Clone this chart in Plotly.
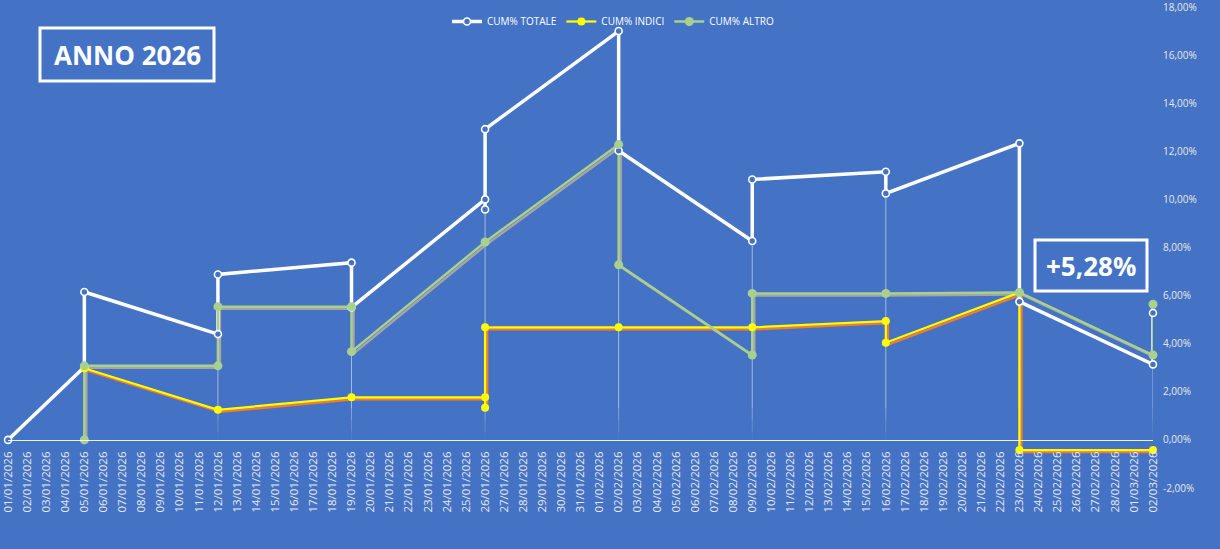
import plotly.graph_objects as go
import pandas as pd

# ---------------- data ----------------
axis_dates = pd.date_range("2026-01-01", "2026-03-02", freq="D")
tick_labels = [d.strftime("%d/%m/%Y") for d in axis_dates]

totale_dates = ["2026-01-01", "2026-01-05", "2026-01-05", "2026-01-12", "2026-01-12",
                "2026-01-19", "2026-01-19", "2026-01-26", "2026-01-26", "2026-01-26",
                "2026-02-02", "2026-02-02", "2026-02-09", "2026-02-09", "2026-02-16",
                "2026-02-16", "2026-02-23", "2026-02-23", "2026-03-02", "2026-03-02"]
totale_vals = [0.00, 3.03, 6.15, 4.40, 6.88, 7.37, 5.51, 10.00, 9.58, 12.92,
               17.00, 12.02, 8.27, 10.83, 11.15, 10.25, 12.33, 5.75, 3.14, 5.28]

indici_dates = ["2026-01-05", "2026-01-12", "2026-01-19", "2026-01-26", "2026-01-26",
                "2026-01-26", "2026-02-02", "2026-02-09", "2026-02-16", "2026-02-16",
                "2026-02-23", "2026-02-23", "2026-03-02"]
indici_vals = [2.98, 1.25, 1.77, 1.77, 1.34, 4.68, 4.68, 4.68, 4.94, 4.04, 6.13, -0.42, -0.42]

altro_dates = ["2026-01-05", "2026-01-05", "2026-01-12", "2026-01-12", "2026-01-19",
               "2026-01-19", "2026-01-26", "2026-02-02", "2026-02-02", "2026-02-09",
               "2026-02-09", "2026-02-16", "2026-02-23", "2026-03-02", "2026-03-02"]
altro_vals = [0.00, 3.08, 3.08, 5.54, 5.54, 3.67, 8.23, 12.28, 7.28, 3.53, 6.09, 6.09,
              6.13, 3.53, 5.64]

series_names = ["CUM% TOTALE", "CUM% INDICI", "CUM% ALTRO"]
title_text = "ANNO 2026"
final_text = "+5,28%"
y_min, y_max = -2, 18
y_ticks = list(range(y_min, y_max + 1, 2))
y_tick_labels = [f"{v:.2f}%".replace(".", ",") for v in y_ticks]

# ---------------- style ----------------
BG = "#4472C4"
WHITE = "#FFFFFF"
YELLOW = "#FFFF00"
ORANGE = "#ED7D31"
GREEN = "#A9D18E"
GRAY = "#A5A5A5"
TICK = "#E8E8E8"
FONT = "Open Sans"

W, H = 1220, 549
ML, MR, MT, MB = 8, 67, 7, 61
plot_w = W - ML - MR
plot_h = H - MT - MB

x0_date = axis_dates[0]


def to_day(ds):
    return [(pd.Timestamp(d) - x0_date).days for d in ds]


axis_days = to_day(axis_dates)
tot_x, ind_x, alt_x = to_day(totale_dates), to_day(indici_dates), to_day(altro_dates)
x_lo, x_hi = axis_days[0], axis_days[-1]
pad = 0.001
shift_px = 2.0
shift_x = shift_px * (x_hi - x_lo) / plot_w
shift_y = shift_px * (y_max - y_min) / plot_h

fig = go.Figure()

# drop lines (from highest point of each date down to the axis), fading near bottom
all_pts = {}
for xs_, vs in ((tot_x, totale_vals), (ind_x, indici_vals), (alt_x, altro_vals)):
    for d, v in zip(xs_, vs):
        all_pts[d] = max(all_pts.get(d, v), v)
fade_levels = [(None, 1.3, 0.5), (1.3, 0.8, 0.32), (0.8, 0.35, 0.18), (0.35, 0.0, 0.06)]
for top, bot, alpha in fade_levels:
    xs, ys = [], []
    for d, v in all_pts.items():
        if v <= 0:
            continue
        t = v if top is None else min(v, top)
        if t <= bot:
            continue
        xs += [d, d, None]
        ys += [t, bot, None]
    fig.add_trace(go.Scatter(x=xs, y=ys, mode="lines", showlegend=False, hoverinfo="skip",
                             line=dict(color=f"rgba(255,255,255,{alpha})", width=1),
                             xaxis="x", yaxis="y"))

# shadows (offset axes)
fig.add_trace(go.Scatter(x=alt_x, y=altro_vals, mode="lines", showlegend=False,
                         line=dict(color=GRAY, width=2.5), xaxis="x2", yaxis="y2",
                         cliponaxis=False))
fig.add_trace(go.Scatter(x=ind_x, y=indici_vals, mode="lines", showlegend=False,
                         line=dict(color=ORANGE, width=2.5), xaxis="x2", yaxis="y2",
                         cliponaxis=False))

# main lines
fig.add_trace(go.Scatter(x=tot_x, y=totale_vals, mode="lines", showlegend=False,
                         line=dict(color=WHITE, width=3.5), xaxis="x3", yaxis="y3",
                         cliponaxis=False))
fig.add_trace(go.Scatter(x=ind_x, y=indici_vals, mode="lines", showlegend=False,
                         line=dict(color=YELLOW, width=2.25), xaxis="x3", yaxis="y3",
                         cliponaxis=False))
fig.add_trace(go.Scatter(x=alt_x, y=altro_vals, mode="lines", showlegend=False,
                         line=dict(color=GREEN, width=2.5), xaxis="x3", yaxis="y3",
                         cliponaxis=False))

# markers
fig.add_trace(go.Scatter(x=tot_x, y=totale_vals, mode="markers", showlegend=False,
                         marker=dict(symbol="circle", size=7, color=BG,
                                     line=dict(color=WHITE, width=1.6)),
                         xaxis="x3", yaxis="y3", cliponaxis=False))
fig.add_trace(go.Scatter(x=ind_x, y=indici_vals, mode="markers", showlegend=False,
                         marker=dict(symbol="circle", size=8, color=YELLOW),
                         xaxis="x3", yaxis="y3", cliponaxis=False))
fig.add_trace(go.Scatter(x=alt_x, y=altro_vals, mode="markers", showlegend=False,
                         marker=dict(symbol="circle", size=9, color=GREEN),
                         xaxis="x3", yaxis="y3", cliponaxis=False))

# legend entries
legend_styles = [
    dict(line=dict(color=WHITE, width=3.5),
         marker=dict(symbol="circle", size=7, color=BG, line=dict(color=WHITE, width=1.6))),
    dict(line=dict(color=YELLOW, width=2.25), marker=dict(symbol="circle", size=8, color=YELLOW)),
    dict(line=dict(color=GREEN, width=2.5), marker=dict(symbol="circle", size=9, color=GREEN)),
]
for name, st in zip(series_names, legend_styles):
    fig.add_trace(go.Scatter(x=[None], y=[None], mode="lines+markers", name=name,
                             xaxis="x3", yaxis="y3", **st))


def px_to_paper_x(px):
    return (px - ML) / plot_w


def px_to_paper_y(py):
    return (H - MB - py) / plot_h


boxes = [
    (title_text, 40, 28, 214, 81),
    (final_text, 1035, 240, 1147, 291),
]
for text, bx0, by0, bx1, by1 in boxes:
    fig.add_shape(type="rect", xref="paper", yref="paper",
                  x0=px_to_paper_x(bx0), x1=px_to_paper_x(bx1),
                  y0=px_to_paper_y(by1), y1=px_to_paper_y(by0),
                  line=dict(color=WHITE, width=3), fillcolor="rgba(0,0,0,0)", layer="above")
    fig.add_annotation(xref="paper", yref="paper",
                       x=px_to_paper_x((bx0 + bx1) / 2), y=px_to_paper_y((by0 + by1) / 2),
                       text=f"<b>{text}</b>", showarrow=False, xanchor="center", yanchor="middle",
                       font=dict(family=FONT, size=26, color=WHITE))

zero_pos = (0 - y_min) / (y_max - y_min)

fig.update_layout(
    width=W, height=H,
    margin=dict(l=ML, r=MR, t=MT, b=MB, pad=0, autoexpand=False),
    paper_bgcolor=BG, plot_bgcolor=BG,
    font=dict(family=FONT, color=TICK),
    showlegend=True,
    legend=dict(orientation="h", xref="paper", yref="paper", x=px_to_paper_x(613), y=1.0,
                xanchor="center", yanchor="top", bgcolor="rgba(0,0,0,0)",
                font=dict(family=FONT, size=10, color=WHITE), itemwidth=30,
                traceorder="normal", tracegroupgap=0),
    xaxis=dict(range=[x_lo - pad, x_hi + pad], anchor="free", position=zero_pos,
               showgrid=False, zeroline=False, showline=True,
               linecolor="rgba(255,255,255,0.9)", linewidth=1,
               tickmode="array", tickvals=axis_days, ticktext=tick_labels,
               tickangle=-90, ticks="", ticklabelstandoff=6, automargin=False,
               ticklabeloverflow="allow",
               tickfont=dict(family=FONT, size=11.5, color=TICK)),
    yaxis=dict(range=[y_min, y_max], side="right", showgrid=False, zeroline=False,
               showline=False, tickmode="array", tickvals=y_ticks, ticktext=y_tick_labels,
               ticks="", ticklabelstandoff=9, automargin=False, ticklabeloverflow="allow",
               tickfont=dict(family=FONT, size=10, color=TICK)),
    xaxis2=dict(range=[x_lo - pad - shift_x, x_hi + pad - shift_x], overlaying="x",
                visible=False),
    yaxis2=dict(range=[y_min + shift_y, y_max + shift_y], overlaying="y", visible=False),
    xaxis3=dict(range=[x_lo - pad, x_hi + pad], overlaying="x", visible=False),
    yaxis3=dict(range=[y_min, y_max], overlaying="y", visible=False),
)

fig.write_html("out.html")
